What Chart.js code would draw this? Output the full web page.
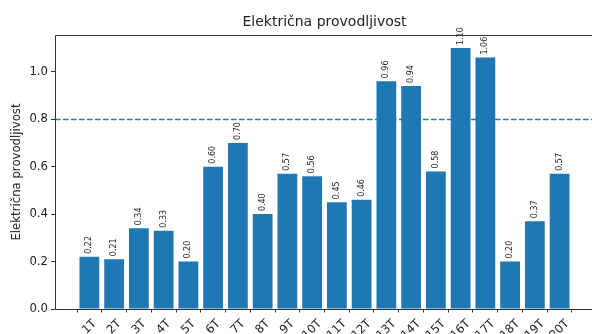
<!DOCTYPE html>
<html>
<head>
<meta charset="utf-8">
<script src="https://cdn.jsdelivr.net/npm/chart.js@4/dist/chart.umd.min.js"></script>
<style>
  html, body { margin: 0; padding: 0; background: #fff; overflow: hidden; }
  #wrap { width: 592px; height: 334px; overflow: hidden; }
  canvas { display: block; }
</style>
</head>
<body>
<div id="wrap"><canvas id="c" width="620" height="334"></canvas></div>
<script>
// Samples and their measured conductivity
const samples = ['1T','2T','3T','4T','5T','6T','7T','8T','9T','10T',
                 '11T','12T','13T','14T','15T','16T','17T','18T','19T','20T'];
const conductivity = [0.22, 0.21, 0.34, 0.33, 0.20, 0.60, 0.70, 0.40, 0.57, 0.56,
                      0.45, 0.46, 0.96, 0.94, 0.58, 1.10, 1.06, 0.20, 0.37, 0.57];
const yTicks = [0.0, 0.2, 0.4, 0.6, 0.8, 1.0];
const threshold = 0.8;

const FONT = 'DejaVu Sans';
const BLUE = '#1f77b4';
const TICK_FONT_SIZE = 11.7;

// Bars sit at integer positions; the axis leaves a margin beyond the outer bars
const points = samples.map((s, i) => ({ x: i, y: conductivity[i] }));
const xMargin = 0.4 + 0.05 * (samples.length - 1 + 0.8);
const yMax = Math.max(...conductivity) * 1.05;

// Axes frame (all four spines)
const framePlugin = {
  id: 'frame',
  afterDraw(chart) {
    const { ctx, chartArea: a } = chart;
    ctx.save();
    ctx.strokeStyle = '#333';
    ctx.lineWidth = 1;
    ctx.beginPath();
    ctx.rect(Math.round(a.left) + 0.5, Math.round(a.top) + 0.5,
             Math.round(a.right - a.left), Math.round(a.bottom - a.top));
    ctx.stroke();
    ctx.restore();
  }
};

// Dashed reference line at the threshold value
const thresholdPlugin = {
  id: 'threshold',
  afterDatasetsDraw(chart) {
    const { ctx, chartArea: a, scales } = chart;
    const y = Math.round(scales.y.getPixelForValue(threshold)) + 0.5;
    ctx.save();
    ctx.strokeStyle = BLUE;
    ctx.lineWidth = 1.5;
    ctx.setLineDash([5.5, 2.5]);
    ctx.beginPath();
    ctx.moveTo(a.left, y);
    ctx.lineTo(a.right, y);
    ctx.stroke();
    ctx.restore();
  }
};

// Vertical value labels above each bar
const valueLabelPlugin = {
  id: 'valueLabels',
  afterDatasetsDraw(chart) {
    const { ctx } = chart;
    const meta = chart.getDatasetMeta(0);
    ctx.save();
    ctx.fillStyle = '#222';
    ctx.font = `8px "${FONT}"`;
    ctx.textAlign = 'left';
    ctx.textBaseline = 'middle';
    meta.data.forEach((bar, i) => {
      ctx.save();
      ctx.translate(bar.x, bar.y - 3);
      ctx.rotate(-Math.PI / 2);
      ctx.fillText(conductivity[i].toFixed(2), 0, 0);
      ctx.restore();
    });
    ctx.restore();
  }
};

// Category labels rotated 45 degrees, their bounding box centred under each tick
const xLabelPlugin = {
  id: 'xLabels',
  afterDraw(chart) {
    const { ctx, scales } = chart;
    const xs = scales.x;
    const c = Math.SQRT1_2;
    const h = TICK_FONT_SIZE * 1.16;
    const top = xs.top + 3.5 + 4.5;
    ctx.save();
    ctx.fillStyle = '#222';
    ctx.font = `${TICK_FONT_SIZE}px "${FONT}"`;
    ctx.textAlign = 'center';
    ctx.textBaseline = 'middle';
    samples.forEach((label, i) => {
      const w = ctx.measureText(label).width;
      const boxH = (w + h) * c;
      ctx.save();
      ctx.translate(xs.getPixelForValue(i), top + boxH / 2);
      ctx.rotate(-Math.PI / 4);
      ctx.fillText(label, 0, 0);
      ctx.restore();
    });
    ctx.restore();
  }
};

new Chart(document.getElementById('c'), {
  type: 'bar',
  data: {
    datasets: [{
      data: points,
      backgroundColor: BLUE,
      borderWidth: 0,
      barPercentage: 0.8,
      categoryPercentage: 1.0
    }]
  },
  options: {
    responsive: false,
    animation: false,
    devicePixelRatio: 1,
    layout: { padding: { left: 0, right: 26, top: 0, bottom: 0 } },
    plugins: {
      legend: { display: false },
      tooltip: { enabled: false },
      title: {
        display: true,
        text: 'Električna provodljivost',
        color: '#222',
        font: { family: FONT, size: 14, weight: 'normal', lineHeight: 1.2 },
        fullSize: false,
        padding: { top: 14, bottom: 4.2 }
      }
    },
    scales: {
      x: {
        type: 'linear',
        min: -xMargin,
        max: samples.length - 1 + xMargin,
        offset: false,
        grid: { display: true, drawOnChartArea: false, drawTicks: true, tickLength: 3.5, color: '#333' },
        border: { display: false },
        afterBuildTicks(scale) {
          scale.ticks = samples.map((_, i) => ({ value: i }));
        },
        afterFit(scale) { scale.height = 25; },
        ticks: { display: false, autoSkip: false }
      },
      y: {
        min: 0,
        max: yMax,
        grid: { display: true, drawOnChartArea: false, drawTicks: true, tickLength: 4, color: '#333' },
        border: { display: false },
        afterBuildTicks(scale) {
          scale.ticks = yTicks.map(v => ({ value: v }));
        },
        afterFit(scale) { scale.width = 55; },
        ticks: {
          padding: 3,
          color: '#222',
          font: { family: FONT, size: TICK_FONT_SIZE },
          callback: (v) => v.toFixed(1)
        },
        title: {
          display: true,
          text: 'Električna provodljivost',
          color: '#222',
          font: { family: FONT, size: TICK_FONT_SIZE, lineHeight: 1.2 },
          padding: { top: 10, bottom: 0 }
        }
      }
    }
  },
  plugins: [framePlugin, thresholdPlugin, valueLabelPlugin, xLabelPlugin]
});
</script>
</body>
</html>
